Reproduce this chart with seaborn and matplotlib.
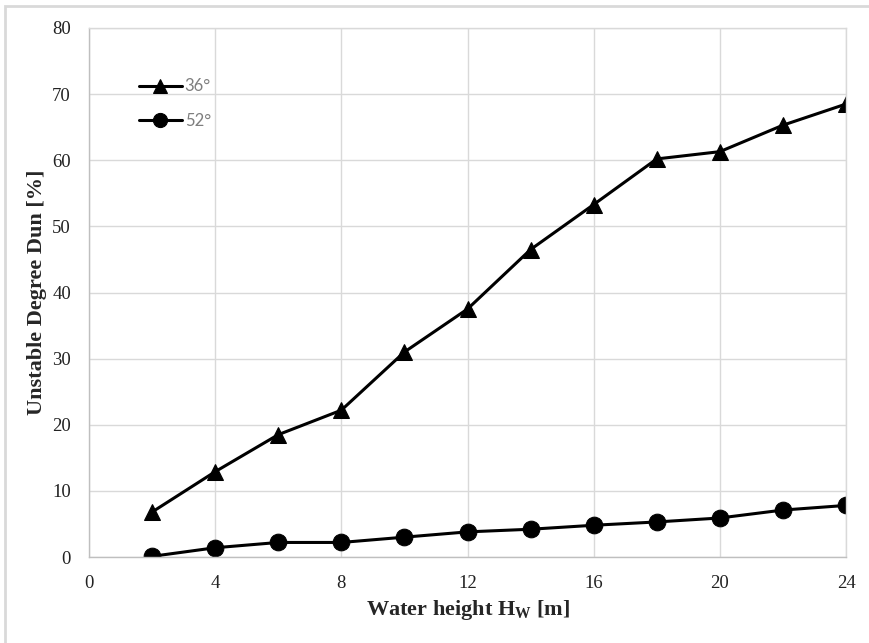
import numpy as np
import pandas as pd
import seaborn as sns
import matplotlib.pyplot as plt
from matplotlib.patches import Rectangle

water_height = [2, 4, 6, 8, 10, 12, 14, 16, 18, 20, 22, 24]
deg36 = [6.8, 12.9, 18.5, 22.2, 31.0, 37.5, 46.5, 53.3, 60.2, 61.3, 65.3, 68.5]
deg52 = [0.1, 1.4, 2.2, 2.2, 3.0, 3.8, 4.2, 4.8, 5.3, 5.9, 7.1, 7.8]
series_names = ['36°', '52°']

data = pd.DataFrame({
    'Hw': water_height * 2,
    'Dun': deg36 + deg52,
    'angle': [series_names[0]] * len(deg36) + [series_names[1]] * len(deg52),
})

sns.set_style('white')
plt.rcParams['font.family'] = ['Liberation Serif', 'DejaVu Serif']

fig = plt.figure(figsize=(8.69, 6.43), dpi=100)
ax = fig.add_axes([89 / 869, 1 - 557 / 643, (846 - 89) / 869, (557 - 28) / 643])

# outer chart border (light gray, right/bottom cut off)
fig.patches.append(Rectangle((5 / 869, -0.02), 1.0, 1 - 6 / 643 + 0.02,
                             transform=fig.transFigure, fill=False,
                             edgecolor='#d9d9d9', linewidth=2.0))

sns.lineplot(data=data, x='Hw', y='Dun', hue='angle', style='angle',
             markers={'36°': '^', '52°': 'o'}, dashes=False,
             palette={'36°': 'black', '52°': 'black'},
             markersize=12, linewidth=2.2, markeredgecolor='black', ax=ax)

ax.set_xlim(0, 24)
ax.set_ylim(0, 80)
ax.set_xticks(range(0, 25, 4))
ax.set_yticks(range(0, 81, 10))
ax.grid(True, color='#d9d9d9', linewidth=1.0)
ax.set_axisbelow(True)
for side in ['top', 'right']:
    ax.spines[side].set_color('#d9d9d9')
for side in ['left', 'bottom']:
    ax.spines[side].set_color('#bfbfbf')
for sp in ax.spines.values():
    sp.set_linewidth(1.0)
ax.tick_params(axis='both', labelsize=13.5, length=0, colors='#222222')
ax.tick_params(axis='x', pad=13)
ax.tick_params(axis='y', pad=13)

ax.set_xlabel(r'Water height H$_\mathregular{W}$ [m]', fontsize=16,
              fontweight='bold', labelpad=4)
ax.set_ylabel('Unstable Degree Dun [%]', fontsize=16, fontweight='bold',
              labelpad=4)

leg = ax.legend(loc='upper left', bbox_to_anchor=(0.046, 0.933), frameon=False,
                prop={'family': 'Lato', 'size': 12}, handlelength=2.6,
                handletextpad=0.15, labelspacing=1.1, markerscale=0.85)
for t in leg.get_texts():
    t.set_color('#7f7f7f')

fig.savefig('out.png', dpi=100)
